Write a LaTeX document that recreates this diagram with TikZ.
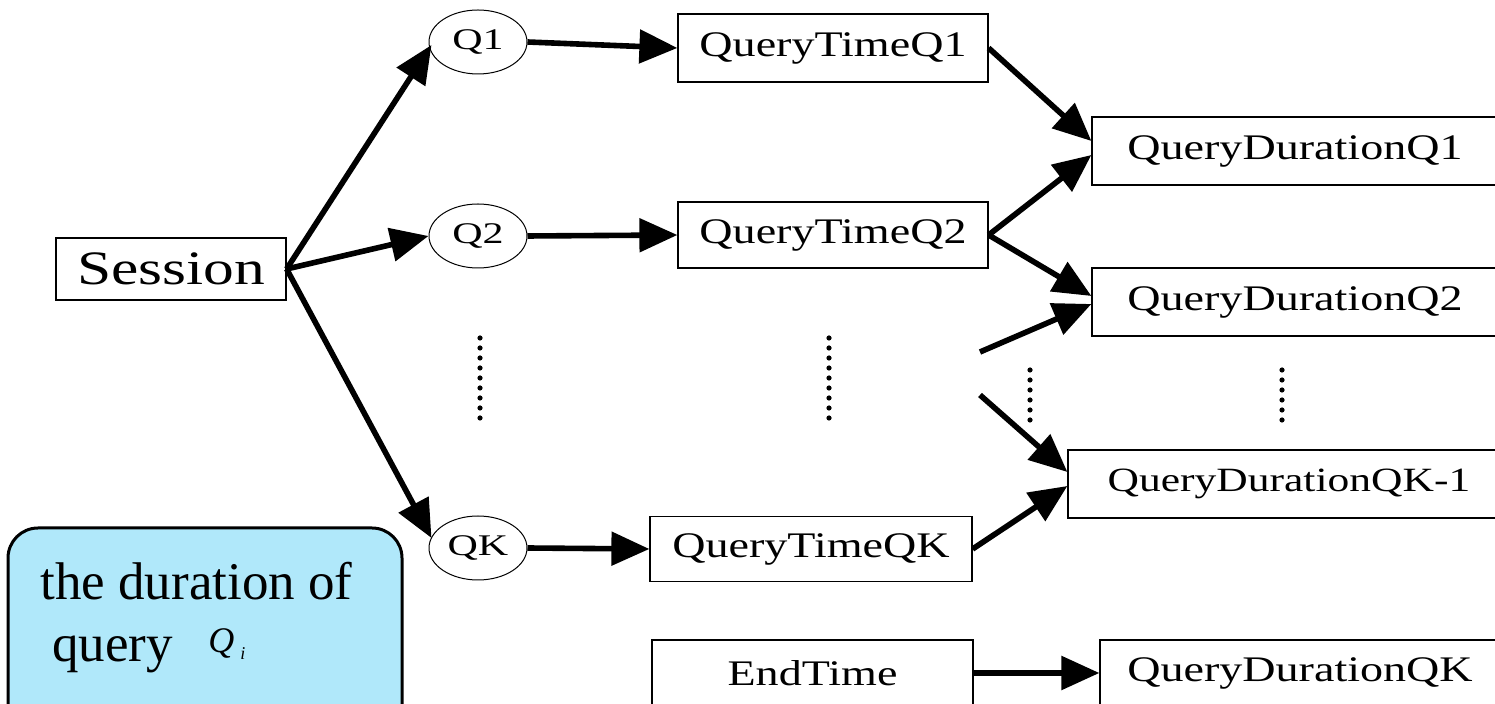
\documentclass[tikz,border=0pt]{standalone}
\usepackage{fontspec}
\setmainfont{Liberation Serif}
\newfontfamily\widefont[FakeStretch=1.28]{Liberation Serif}
\newfontfamily\ellfont[FakeStretch=1.4]{Liberation Serif}
\usetikzlibrary{arrows.meta,shapes.geometric}
\definecolor{boxblue}{RGB}{176,232,250}
\begin{document}
\begin{tikzpicture}[x=0.5pt,y=-0.5pt,
  box/.style={draw, line width=0.6pt, inner sep=0pt, font=\widefont\fontsize{18}{20}\selectfont},
  qell/.style={draw, ellipse, line width=0.5pt, minimum width=49pt, minimum height=32pt, inner sep=0pt, font=\ellfont\fontsize{15}{17}\selectfont},
  arr/.style={line width=2.8pt, -{Triangle[length=19pt,width=16.5pt]}}]
\useasboundingbox (0,0) rectangle (1495,704);
% nodes
\node[box, minimum width=115pt, minimum height=31pt, font=\widefont\fontsize{24}{26}\selectfont] (S) at (171,269) {Session};
\node[qell] (Q1) at (478,42) {Q1};
\node[qell] (Q2) at (478,236) {Q2};
\node[qell] (QK) at (478,548) {QK};
\node[box, minimum width=155pt, minimum height=34pt] (T1) at (833,48) {QueryTimeQ1};
\node[box, minimum width=155pt, minimum height=33pt] (T2) at (833,235) {QueryTimeQ2};
\node[box, minimum width=161pt, minimum height=32.5pt] (TK) at (811,549) {QueryTimeQK};
\node[box, minimum width=203pt, minimum height=34pt] (D1) at (1295,151) {QueryDurationQ1};
\node[box, minimum width=203pt, minimum height=34pt] (D2) at (1295,302) {QueryDurationQ2};
\node[box, minimum width=221pt, minimum height=34pt, font=\widefont\fontsize{17}{19}\selectfont] (DK1) at (1289,484) {QueryDurationQK-1\hspace{12pt}};
\node[box, minimum width=160.5pt, minimum height=33pt] (E) at (812.5,673) {EndTime};
\node[box, minimum width=200pt, minimum height=33pt] (DK) at (1300,673) {QueryDurationQK};
\coordinate (f1) at (980,352);
\coordinate (f2) at (980,395);
% arrows
\draw[arr] (S.east) -- ([yshift=-1.5pt,xshift=1.5pt]Q1.west);
\draw[arr] (S.east) -- (Q2.west);
\draw[arr] (S.east) -- ([yshift=5pt,xshift=1.5pt]QK.west);
\draw[arr] (Q1.east) -- (T1.west);
\draw[arr] (Q2.east) -- (T2.west);
\draw[arr] (QK.east) -- (TK.west);
\draw[arr] (T1.east) -- ([yshift=5pt]D1.west);
\draw[arr] (T2.east) -- ([yshift=-2pt]D1.west);
\draw[arr] (T2.east) -- ([yshift=3pt]D2.west);
\draw[arr] (f1) -- ([yshift=-1pt]D2.west);
\draw[arr] (f2) -- ([yshift=6pt]DK1.west);
\draw[arr] (TK.east) -- ([yshift=-1pt]DK1.west);
\draw[arr] (E.east) -- (DK.west);
% dots
\foreach \y in {338,348,358,368,378,388,398,408,418} {
  \fill (480,\y) circle (1.3pt);
  \fill (829,\y) circle (1.3pt);
}
\foreach \y in {370,380,390,400,410,420} {
  \fill (1030,\y) circle (1.3pt);
  \fill (1282,\y) circle (1.3pt);
}
% blue note
\draw[line width=1.5pt, fill=boxblue, rounded corners=15pt] (8,528) rectangle (402,780);
\node[anchor=base west, inner sep=0pt, font=\fontsize{26.5}{28}\selectfont] (n1) at (40,600) {the duration of};
\node[anchor=base west, inner sep=0pt, font=\fontsize{26.5}{28}\selectfont] (n2) at (52,662) {query};
\node[anchor=base west, inner sep=0pt, font=\itshape\fontsize{18}{20}\selectfont] (n3) at (208,653) {Q};
\node[anchor=base west, inner sep=0pt, font=\itshape\fontsize{9}{10}\selectfont] (n4) at (240,660) {i};
\end{tikzpicture}
\end{document}
